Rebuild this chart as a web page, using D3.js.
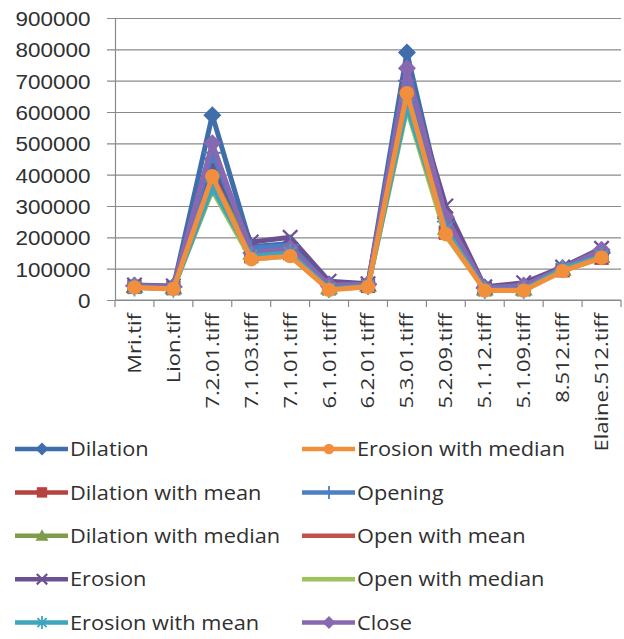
<!DOCTYPE html>
<html>
<head>
<meta charset="utf-8">
<script src="https://cdn.jsdelivr.net/npm/d3@7"></script>
<style>
  html, body { margin: 0; padding: 0; background: #fff; }
  svg { display: block; font-family: "Open Sans", sans-serif; }
</style>
</head>
<body>
<svg id="chart" width="624" height="639"></svg>
<script>
// Image files compared
const categories = ["Mri.tif", "Lion.tif", "7.2.01.tiff", "7.1.03.tiff", "7.1.01.tiff", "6.1.01.tiff",
  "6.2.01.tiff", "5.3.01.tiff", "5.2.09.tiff", "5.1.12.tiff", "5.1.09.tiff", "8.512.tiff", "Elaine.512.tiff"];

// Value axis ticks
const yTicks = [0, 100000, 200000, 300000, 400000, 500000, 600000, 700000, 800000, 900000];

// One array per morphological operation
const dilation          = [45000, 42000, 590000, 170000, 180000, 50000, 50000, 790000, 260000, 40000, 45000, 100000, 155000];
const dilationMean      = [42000, 38000, 410000, 140000, 150000, 38000, 45000, 660000, 215000, 35000, 35000, 95000, 135000];
const dilationMedian    = [44000, 40000, 440000, 150000, 160000, 40000, 48000, 680000, 230000, 36000, 36000, 98000, 140000];
const erosion           = [48000, 45000, 430000, 185000, 200000, 60000, 52000, 720000, 300000, 42000, 55000, 105000, 165000];
const erosionMean       = [40000, 36000, 360000, 140000, 150000, 35000, 45000, 620000, 225000, 32000, 32000, 100000, 140000];
const erosionMedian     = [40000, 35000, 395000, 130000, 140000, 32000, 42000, 660000, 210000, 30000, 30000, 92000, 135000];
const opening           = [45000, 42000, 470000, 165000, 175000, 45000, 50000, 700000, 250000, 38000, 40000, 100000, 150000];
const openMean          = [42000, 38000, 380000, 135000, 145000, 36000, 44000, 640000, 220000, 34000, 34000, 96000, 138000];
const openMedian        = [41000, 37000, 350000, 130000, 140000, 34000, 43000, 610000, 205000, 33000, 33000, 94000, 134000];
const close             = [46000, 43000, 500000, 150000, 165000, 48000, 50000, 740000, 265000, 40000, 46000, 102000, 160000];

const seriesNames  = ["Dilation", "Dilation with mean", "Dilation with median", "Erosion", "Erosion with mean",
  "Erosion with median", "Opening", "Open with mean", "Open with median", "Close"];
const seriesValues = [dilation, dilationMean, dilationMedian, erosion, erosionMean,
  erosionMedian, opening, openMean, openMedian, close];
const seriesColors = ["#3f6eab", "#b6423f", "#7f9d49", "#6c5192", "#3ea5bf",
  "#f28f3c", "#4a7fc6", "#c2504d", "#9bc45a", "#8868b0"];
const seriesMarkers = ["diamond", "square", "triangle", "x", "star", "circle", "plus", "dash", "dash", "diamond"];

const series = seriesNames.map((name, i) => ({
  name, values: seriesValues[i], color: seriesColors[i], marker: seriesMarkers[i]
}));

const svg = d3.select("#chart");
const x = d3.scaleBand().domain(categories).range([115, 621]).padding(0);
const y = d3.scaleLinear().domain([0, 900000]).range([300, 18]);
const cx = c => x(c) + x.bandwidth() / 2;
const textColor = "#303030";
const gridColor = "#8a8a8a";

// Horizontal gridlines, extended left as tick marks
const yAxis = d3.axisLeft(y).tickValues(yTicks).tickSize(-(621 - 115)).tickSizeOuter(0).tickPadding(12)
  .tickFormat(d3.format("d"));
const gy = svg.append("g").attr("transform", "translate(115,0)").call(yAxis);
gy.select(".domain").attr("stroke", gridColor).attr("stroke-width", 1.2);
gy.selectAll(".tick line").attr("stroke", gridColor).attr("stroke-width", 1.2).attr("x1", -8);
gy.selectAll(".tick text")
  .attr("x", -23)
  .attr("fill", textColor)
  .style("font-size", "21px")
  .attr("transform", "scale(1.07,1)")
  .attr("dy", "0.36em");

// Category axis: baseline, boundary ticks and rotated labels
const gx = svg.append("g");
gx.append("line").attr("x1", 115).attr("x2", 621).attr("y1", 300).attr("y2", 300)
  .attr("stroke", gridColor).attr("stroke-width", 1.2);
const edges = categories.map(c => x(c)).concat([x.range()[1]]);
gx.selectAll("line.edge").data(edges).join("line").attr("class", "edge")
  .attr("x1", d => d).attr("x2", d => d).attr("y1", 300).attr("y2", 307)
  .attr("stroke", gridColor).attr("stroke-width", 1.2);
gx.selectAll("text").data(categories).join("text")
  .attr("transform", d => `translate(${cx(d)},313) rotate(-90) scale(1.22,1)`)
  .attr("text-anchor", "end")
  .attr("dy", "0.36em")
  .attr("fill", textColor)
  .style("font-size", "18px")
  .text(d => d);

// Marker drawing
function drawMarker(g, type, color, s) {
  if (type === "diamond") {
    g.append("path").attr("d", `M0,${-s}L${s},0L0,${s}L${-s},0Z`).attr("fill", color);
  } else if (type === "square") {
    g.append("rect").attr("x", -s * 0.8).attr("y", -s * 0.8).attr("width", s * 1.6).attr("height", s * 1.6).attr("fill", color);
  } else if (type === "triangle") {
    g.append("path").attr("d", `M0,${-s}L${s},${s * 0.75}L${-s},${s * 0.75}Z`).attr("fill", color);
  } else if (type === "circle") {
    g.append("circle").attr("r", s * 0.8).attr("fill", color);
  } else if (type === "x") {
    g.append("path").attr("d", `M${-s * 0.8},${-s * 0.8}L${s * 0.8},${s * 0.8}M${-s * 0.8},${s * 0.8}L${s * 0.8},${-s * 0.8}`)
      .attr("stroke", color).attr("stroke-width", 2.2).attr("fill", "none");
  } else if (type === "star") {
    g.append("path").attr("d", `M${-s * 0.7},${-s * 0.7}L${s * 0.7},${s * 0.7}M${-s * 0.7},${s * 0.7}L${s * 0.7},${-s * 0.7}M0,${-s}L0,${s}`)
      .attr("stroke", color).attr("stroke-width", 1.8).attr("fill", "none");
  } else if (type === "plus") {
    g.append("path").attr("d", `M0,${-s}L0,${s}M${-s},0L${s},0`)
      .attr("stroke", color).attr("stroke-width", 1.8).attr("fill", "none");
  } else if (type === "dash") {
    g.append("path").attr("d", `M${-s * 0.7},0L${s * 0.7},0`)
      .attr("stroke", color).attr("stroke-width", 3).attr("fill", "none");
  }
}

// Series lines, orange drawn last so it sits on top
const drawOrder = [0, 1, 2, 3, 6, 7, 8, 9, 4, 5];
const line = d3.line().x((d, i) => cx(categories[i])).y(d => y(d));
const plot = svg.append("g");
drawOrder.forEach(i => {
  const s = series[i];
  const g = plot.append("g");
  g.append("path").attr("d", line(s.values)).attr("fill", "none")
    .attr("stroke", s.color).attr("stroke-width", 5).attr("stroke-linejoin", "round");
  s.values.forEach((v, j) => {
    const m = g.append("g").attr("transform", `translate(${cx(categories[j])},${y(v)})`);
    drawMarker(m, s.marker, s.color, 9);
  });
});

// Legend in two columns of five
const legend = svg.append("g");
series.forEach((s, i) => {
  const col = Math.floor(i / 5), row = i % 5;
  const x0 = col === 0 ? 15 : 302;
  const yy = 449 + row * 43.4;
  const g = legend.append("g").attr("transform", `translate(${x0},${yy})`);
  g.append("line").attr("x1", 0).attr("x2", 53).attr("y1", 0).attr("y2", 0)
    .attr("stroke", s.color).attr("stroke-width", 4.5);
  const m = g.append("g").attr("transform", "translate(27,0)");
  drawMarker(m, s.marker, s.color, 6.5);
  g.append("text").attr("transform", "translate(55,0) scale(1.09,1)")
    .attr("dy", "0.36em").attr("fill", textColor).style("font-size", "20px").text(s.name);
});
</script>
</body>
</html>
